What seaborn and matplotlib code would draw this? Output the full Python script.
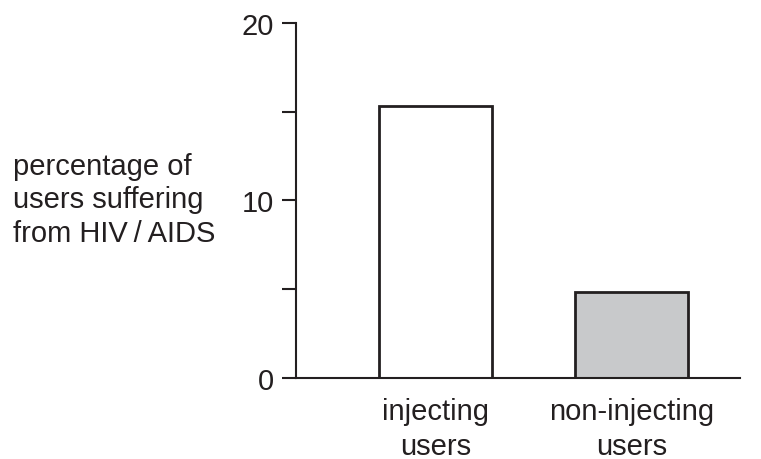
import matplotlib
matplotlib.use("Agg")
import matplotlib.pyplot as plt
import seaborn as sns
import pandas as pd

categories = ["injecting\nusers", "non-injecting\nusers"]
values = [15.3, 4.85]
bar_colors = ["#ffffff", "#c8c9cb"]
yticks = [0, 5, 10, 15, 20]
ytick_labels = ["0", "", "10", "", "20"]

sns.set_style("ticks")
plt.rcParams["font.family"] = ["Liberation Sans", "DejaVu Sans"]

df = pd.DataFrame({"category": categories, "value": values})

fig = plt.figure(figsize=(7.61, 4.6), dpi=100)
ax = fig.add_axes([0.389, 0.176, 0.583, 0.772])
ink = "#231f20"
sns.barplot(data=df, x="category", y="value", hue="category",
            palette=bar_colors, width=0.577, edgecolor=ink, linewidth=2.0,
            legend=False, ax=ax)

ax.set_ylim(0, 20)
ax.set_xlim(-0.714, 1.55)
ax.set_yticks(yticks)
ax.set_yticklabels(ytick_labels)
ax.tick_params(axis="y", direction="out", length=10, width=1.5, color=ink,
               labelsize=21, labelcolor=ink, pad=6)
ax.tick_params(axis="x", length=0, labelsize=21, labelcolor=ink, pad=14)
for lbl in ax.get_xticklabels():
    lbl.set_linespacing(1.3)
ax.set_xlabel("")
ax.set_ylabel("")
sns.despine(ax=ax)
for side in ["left", "bottom"]:
    ax.spines[side].set_linewidth(1.5)
    ax.spines[side].set_color(ink)

fig.text(0.017, 0.565, "percentage of\nusers suffering\nfrom HIV\u2009/\u2009AIDS",
         ha="left", va="center", fontsize=21, color=ink, linespacing=1.25)

fig.savefig("out.png", dpi=100)
